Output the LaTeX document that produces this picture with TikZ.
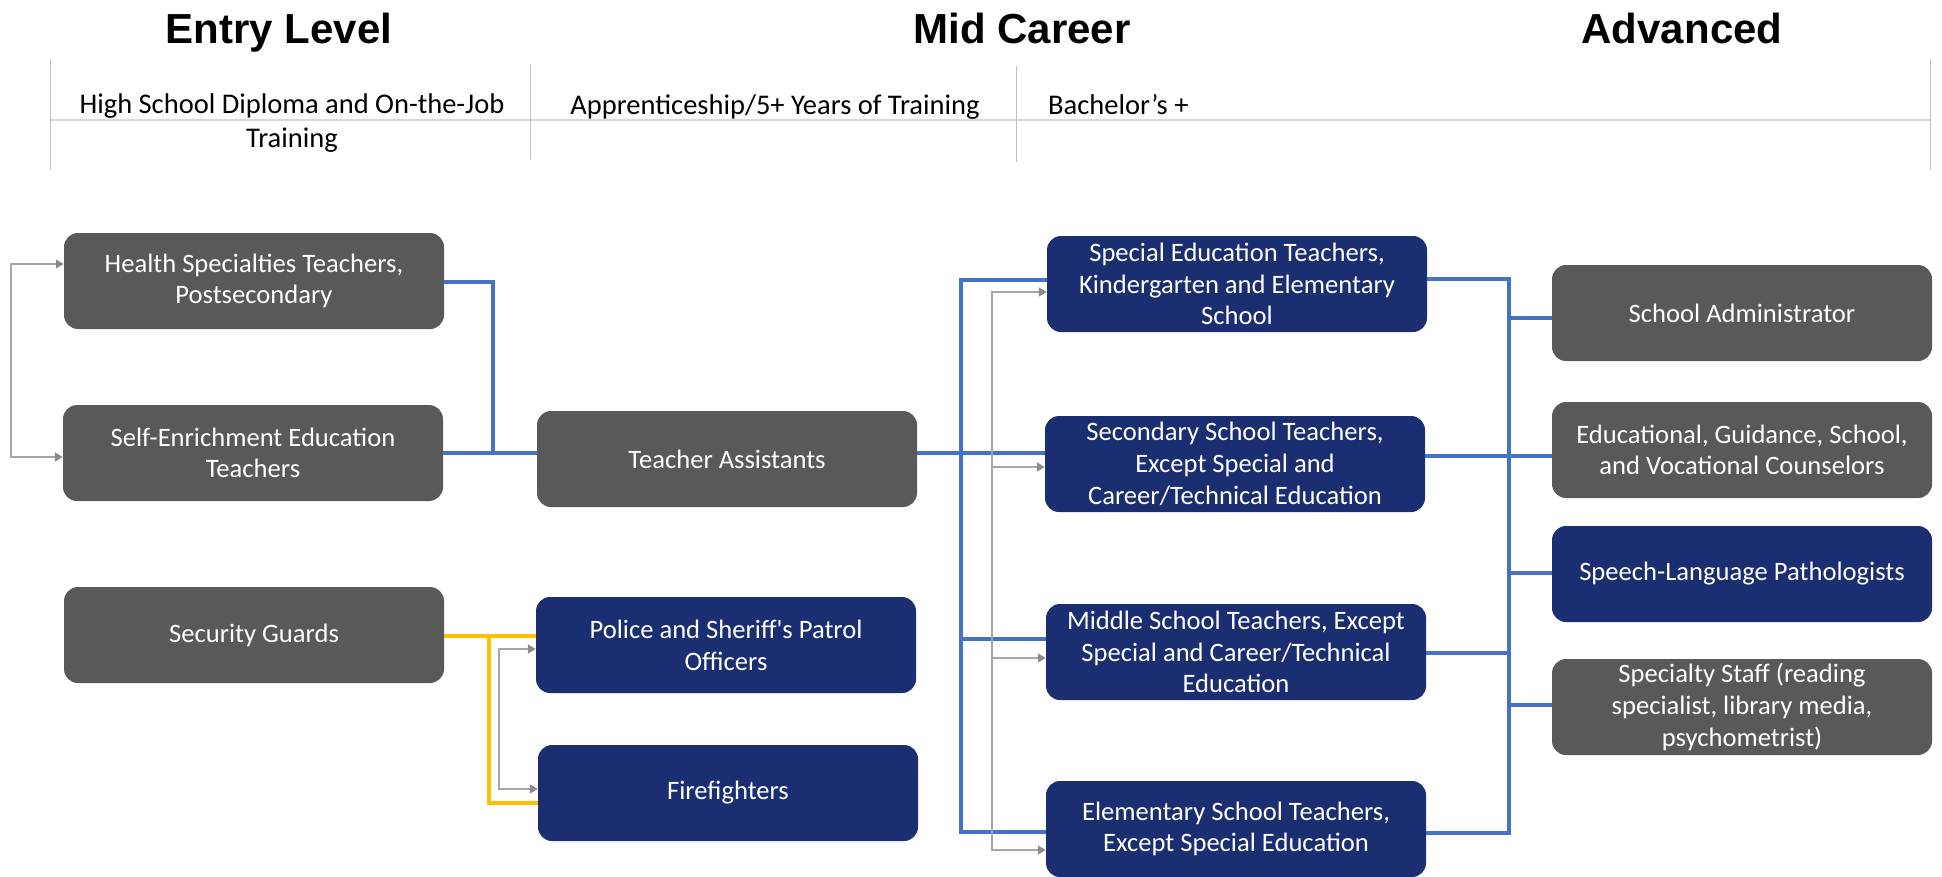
\documentclass[tikz,border=0pt]{standalone}
\usepackage{fontspec}
\setmainfont{Carlito}
\newfontfamily\titlefam{Liberation Sans}
\usetikzlibrary{arrows.meta}
\definecolor{boxgray}{HTML}{595959}
\definecolor{boxnavy}{HTML}{1B2E72}
\definecolor{linkblue}{HTML}{4472C4}
\definecolor{linkgold}{HTML}{FFC000}
\definecolor{linkgray}{HTML}{A6A6A6}
\definecolor{tipgray}{HTML}{8C8C8C}
\definecolor{rulegray}{HTML}{BFBFBF}
\definecolor{rulelight}{HTML}{D9D9D9}
\begin{document}
\begin{tikzpicture}[x=1pt,y=-1pt,
  job/.style={rounded corners=14pt, minimum width=380pt, minimum height=96pt, inner sep=0pt,
    align=center, text=white, font=\fontsize{26.6}{31.7}\selectfont},
  grayjob/.style={job, fill=boxgray},
  navyjob/.style={job, fill=boxnavy},
  levelhead/.style={font=\titlefam\bfseries\fontsize{42}{50}\selectfont, inner sep=0pt},
  subhead/.style={font=\fontsize{28.5}{34}\selectfont, inner sep=0pt, align=center},
  blueline/.style={draw=linkblue, line width=4.5pt},
  goldline/.style={draw=linkgold, line width=4.5pt},
  grayline/.style={draw=linkgray, line width=1.6pt},
  graytip/.style={-{Triangle[length=8pt,width=9pt,color=tipgray]}},
  graytips/.style={{Triangle[length=8pt,width=9pt,color=tipgray]}-{Triangle[length=8pt,width=9pt,color=tipgray]}},
  thinrule/.style={draw=rulegray, line width=1pt},
  thickrule/.style={draw=rulelight, line width=2.5pt}]
\useasboundingbox (0,0) rectangle (1942,876);

% ---------- header ----------
\node[levelhead, anchor=base] (hEntry) at (279,43) {Entry Level};
\node[levelhead, anchor=base] (hMid) at (1022,43) {Mid Career};
\node[levelhead, anchor=base] (hAdv) at (1682,43) {Advanced};

\coordinate (r1t) at (50,59);   \coordinate (r1b) at (50,170);
\coordinate (r2t) at (530,64);  \coordinate (r2b) at (530,159);
\coordinate (r3t) at (1016,66); \coordinate (r3b) at (1016,162);
\coordinate (r4t) at (1930,59); \coordinate (r4b) at (1930,170);
\coordinate (hl) at (50,120);   \coordinate (hr) at (1930,120);
\draw[thickrule] (hl) -- (hr);
\draw[thinrule] (r1t) -- (r1b);
\draw[thinrule] (r2t) -- (r2b);
\draw[thinrule] (r3t) -- (r3b);
\draw[thinrule] (r4t) -- (r4b);

\node[subhead, anchor=north] (sEntry) at (292,94) {High School Diploma and On-the-Job\\Training};
\node[subhead, anchor=base] (sMid) at (775,114) {Apprenticeship/5+ Years of Training};
\node[subhead, anchor=base west] (sAdv) at (1048,114) {Bachelor’s +};

% ---------- boxes ----------
\node[grayjob] (HS) at (254,281) {Health Specialties Teachers,\\Postsecondary};
\node[grayjob] (SE) at (253,453) {Self-Enrichment Education\\Teachers};
\node[grayjob] (SG) at (254,635) {Security Guards};
\node[grayjob] (TA) at (727,459) {Teacher Assistants};
\node[navyjob] (PO) at (726,645) {Police and Sheriff\textquotesingle s Patrol\\Officers};
\node[navyjob] (FF) at (728,793) {Firefighters};
\node[navyjob] (SPE) at (1237,284) {Special Education Teachers,\\Kindergarten and Elementary\\School};
\node[navyjob] (SEC) at (1235,464) {Secondary School Teachers,\\Except Special and\\Career/Technical Education};
\node[navyjob] (MID) at (1236,652) {Middle School Teachers, Except\\Special and Career/Technical\\Education};
\node[navyjob] (ELE) at (1236,829) {Elementary School Teachers,\\Except Special Education};
\node[grayjob] (ADM) at (1742,313) {School Administrator};
\node[grayjob] (EDU) at (1742,450) {Educational, Guidance, School,\\and Vocational Counselors};
\node[navyjob] (SLP) at (1742,574) {Speech-Language Pathologists};
\node[grayjob] (SPS) at (1742,707) {Specialty Staff (reading\\specialist, library media,\\psychometrist)};

% ---------- left blue links ----------
\coordinate (lA) at (493,282);
\coordinate (lB) at (493,453);
\draw[blueline] (HS.east |- lA) -- (lA) -- (lB);
\draw[blueline] (SE.east |- lB) -- (TA.west |- lB);

% ---------- left gray bracket ----------
\coordinate (gA) at (11,264);
\coordinate (gB) at (11,457);
\draw[grayline, graytips] (HS.west |- gA) -- (gA) -- (gB) -- (SE.west |- gB);

% ---------- gold links ----------
\coordinate (yA) at (489,636);
\coordinate (yB) at (489,803);
\draw[goldline] (SG.east |- yA) -- (PO.west |- yA);
\draw[goldline] (yA) -- (yB) -- (FF.west |- yB);

% ---------- police / fire gray bracket ----------
\coordinate (pA) at (499,649);
\coordinate (pB) at (499,789);
\draw[grayline, graytips] (PO.west |- pA) -- (pA) -- (pB) -- (FF.west |- pB);

% ---------- middle blue trunk ----------
\coordinate (mA) at (961,280);
\coordinate (mB) at (961,453);
\coordinate (mC) at (961,639);
\coordinate (mD) at (961,832);
\draw[blueline] (TA.east |- mB) -- (SEC.west |- mB);
\draw[blueline] (SPE.west |- mA) -- (mA) -- (mD) -- (ELE.west |- mD);
\draw[blueline] (mC) -- (MID.west |- mC);

% ---------- middle gray bracket ----------
\coordinate (nA) at (992,292);
\coordinate (nB) at (992,467);
\coordinate (nC) at (992,658);
\coordinate (nD) at (992,850);
\draw[grayline, graytips] (SPE.west |- nA) -- (nA) -- (nD) -- (ELE.west |- nD);
\draw[grayline, graytip] (nB) -- (SEC.west |- nB);
\draw[grayline, graytip] (nC) -- (MID.west |- nC);

% ---------- right blue trunk ----------
\coordinate (kA) at (1509,279);
\coordinate (kB) at (1509,456);
\coordinate (kC) at (1509,653);
\coordinate (kD) at (1509,833);
\coordinate (kE) at (1509,318);
\coordinate (kF) at (1509,573);
\coordinate (kG) at (1509,705);
\draw[blueline] (SPE.east |- kA) -- (kA) -- (kD) -- (ELE.east |- kD);
\draw[blueline] (SEC.east |- kB) -- (EDU.west |- kB);
\draw[blueline] (MID.east |- kC) -- (kC);
\draw[blueline] (kE) -- (ADM.west |- kE);
\draw[blueline] (kF) -- (SLP.west |- kF);
\draw[blueline] (kG) -- (SPS.west |- kG);
\end{tikzpicture}
\end{document}
